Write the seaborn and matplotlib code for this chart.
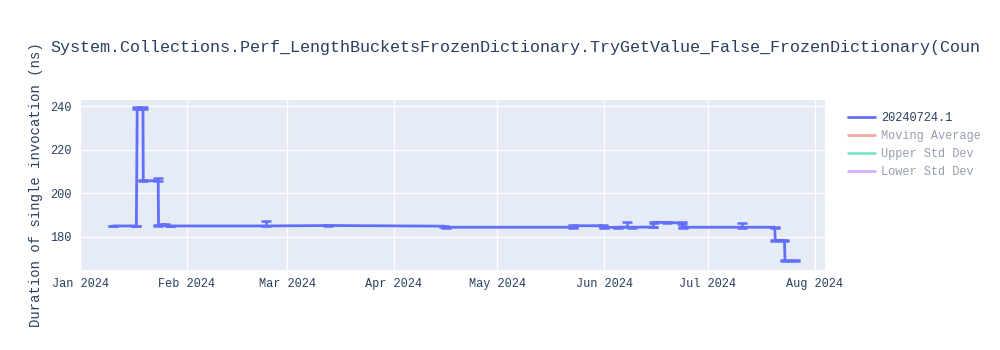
import numpy as np
import pandas as pd
import matplotlib
matplotlib.use("Agg")
import matplotlib.pyplot as plt
import matplotlib.dates as mdates
from matplotlib.lines import Line2D
import seaborn as sns

# ---- data ----
run_dates = [
    "2024-01-10 14:00", "2024-01-17 08:00", "2024-01-17 14:00", "2024-01-19 06:00",
    "2024-01-19 08:00", "2024-01-23 16:00", "2024-01-23 18:00", "2024-01-25 12:00",
    "2024-01-27 00:00", "2024-02-24 00:00", "2024-03-13 00:00", "2024-04-15 12:00",
    "2024-04-16 00:00", "2024-05-22 20:00", "2024-05-23 00:00", "2024-05-31 12:00",
    "2024-06-01 00:00", "2024-06-05 00:00", "2024-06-07 10:00", "2024-06-09 00:00",
    "2024-06-15 04:00", "2024-06-15 08:00", "2024-06-19 06:00", "2024-06-23 12:00",
    "2024-06-23 16:00", "2024-07-11 00:00", "2024-07-20 08:00", "2024-07-20 12:00",
    "2024-07-23 04:00", "2024-07-23 08:00", "2024-07-26 04:00",
]
durations = [
    184.9, 184.9, 239.0, 239.0,
    205.6, 205.8, 185.2, 185.6,
    184.9, 184.9, 185.1, 184.8,
    184.3, 184.3, 185.0, 185.0,
    184.2, 184.3, 184.4, 184.3,
    184.4, 186.6, 186.5, 186.2,
    184.3, 184.3, 184.3, 178.3,
    178.3, 168.8, 168.8,
]
err_upper = [
    0.2, 0.2, 0.4, 0.4,
    0.3, 1.3, 0.3, 0.3,
    0.2, 2.2, 0.2, 0.2,
    0.2, 0.2, 0.2, 0.2,
    0.2, 0.2, 2.4, 0.2,
    0.2, 0.3, 0.2, 0.3,
    0.2, 1.9, 0.2, 0.3,
    0.3, 0.3, 0.3,
]
err_lower = [0.2] * len(err_upper)
legend_names = ["20240724.1", "Moving Average", "Upper Std Dev", "Lower Std Dev"]
legend_colors = ["#636efa", "#EF553B", "#00cc96", "#ab63fa"]
title_text = "System.Collections.Perf_LengthBucketsFrozenDictionary.TryGetValue_False_FrozenDictionary(Coun"
y_label = "Duration of single invocation (ns)"
y_ticks = [180, 200, 220, 240]

df = pd.DataFrame({"date": pd.to_datetime(run_dates), "value": durations,
                   "lo": err_lower, "hi": err_upper})

sns.set_theme(style="darkgrid", rc={
    "axes.facecolor": "#E5ECF6",
    "grid.color": "white",
    "grid.linewidth": 1.0,
})
plt.rcParams["font.family"] = ["Liberation Mono", "DejaVu Sans Mono"]
text_color = "#2a3f5f"

fig = plt.figure(figsize=(10, 3.5), dpi=100)
ax = fig.add_axes([0.080, 0.229, 0.745, 0.485])

sns.lineplot(data=df, x="date", y="value", ax=ax, color="#636efa",
             linewidth=2.0, estimator=None, sort=False, legend=False)
ax.errorbar(df["date"], df["value"], yerr=[df["lo"], df["hi"]], fmt="none",
            ecolor="#636efa", elinewidth=1.8, capsize=3.3, capthick=1.8)

ax.set_xlim(pd.Timestamp("2024-01-01"), pd.Timestamp("2024-08-03 22:00"))
ax.set_ylim(164.7, 242.8)
ax.set_yticks(y_ticks)
ax.xaxis.set_major_locator(mdates.MonthLocator())
ax.xaxis.set_major_formatter(mdates.DateFormatter("%b %Y"))
ax.tick_params(axis="both", labelsize=8.6, colors=text_color, length=0, pad=6)
for lab in ax.get_xticklabels() + ax.get_yticklabels():
    lab.set_color(text_color)
ax.set_xlabel("")
ax.set_ylabel(y_label, fontsize=10, color=text_color, labelpad=5)
for s in ax.spines.values():
    s.set_visible(False)

fig.text(0.05, 0.865, title_text, fontsize=12.1, color=text_color, ha="left", va="center")

handles = []
for i, (n, c) in enumerate(zip(legend_names, legend_colors)):
    handles.append(Line2D([0], [0], color=c, lw=2, alpha=1.0 if i == 0 else 0.5))
leg = fig.legend(handles, legend_names, loc="upper left", bbox_to_anchor=(0.843, 0.693),
                 frameon=False, fontsize=8.6, handlelength=2.3, handletextpad=0.5,
                 labelspacing=0.5, borderaxespad=0)
for i, t in enumerate(leg.get_texts()):
    t.set_color(text_color)
    if i > 0:
        t.set_alpha(0.5)

fig.savefig("out.png", dpi=100)
